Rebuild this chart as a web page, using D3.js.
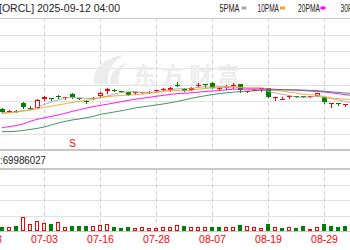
<!DOCTYPE html>
<html><head><meta charset="utf-8">
<script src="https://cdn.jsdelivr.net/npm/d3@7"></script>
<style>html,body{margin:0;padding:0;background:#fff;overflow:hidden}svg{display:block}</style>
</head><body><svg id="c" width="350" height="250"></svg>
<script>
// ---- data ----
const title = "[ORCL] 2025-09-12 04:00";
const volumeText = ":69986027";
const dates = ["06-23","06-24","06-25","06-26","06-27","06-30","07-01","07-02","07-03","07-07","07-08","07-09","07-10","07-11","07-14","07-15","07-16","07-17","07-18","07-21","07-22","07-23","07-24","07-25","07-28","07-29","07-30","07-31","08-01","08-04","08-05","08-06","08-07","08-08","08-11","08-12","08-13","08-14","08-15","08-18","08-19","08-20","08-21","08-22","08-25","08-26","08-27","08-28","08-29","09-02","09-03","09-04","09-05"];
const dataDates = dates.slice(2);
const opens  = [213.5,210.1,210.8,222.9,215.6,214.6,228.5,230,232.3,230.2,236,229.4,225.8,228.8,233,239.8,242.5,239.9,238.6,237.8,238.1,238.6,241.1,243.1,241.3,249.2,243.5,242,248.8,250.7,252.8,244.4,245.8,247.7,250.6,239.2,241.6,243.8,244.6,230,228.2,231.5,232.7,232.4,231.5,233,231.8,221,222.8,219.7,219.5];
const closes = [209,210.8,210.1,216.5,214.6,227,231.9,229.1,231.5,231.1,231.1,228.5,224.8,229.9,238,243.5,241.6,239,234.5,238.6,238.9,239.3,242,243.8,245,248.3,240.5,245.5,249.8,249.8,244.7,245.3,246.8,248.9,242,240,242.3,244.6,231.5,230.9,229.1,232.4,231.8,231.5,232.3,236.8,223.3,221.9,221.9,220.6,222];
const highs  = [215,212.5,211.3,224.5,217.3,227.8,232.5,230.3,234.5,231.5,236.8,229.7,227.3,230.8,238.3,244.3,243.1,240.5,239,238.9,239.3,239.8,242.3,245.6,245.8,254,244.3,245.8,252.5,251,253.3,245.8,249.5,252.5,251.3,240.5,242.8,245,245,231.2,232,234.5,233,232.7,232.6,237.2,232.3,222.2,223.1,220.9,223];
const lows   = [207.5,208.6,209.6,215,212.8,214.3,226.6,226.6,229.6,228.1,230.3,228.2,223.1,228.2,232.6,238,240.8,238.4,233.9,236,237.5,238.1,238.6,241.7,240.8,248,239.8,241.7,246.5,247,244.3,243.8,243.1,245,238.3,238.7,241.3,241,230.8,227,228.1,229.6,230.8,231.2,231.4,232.7,222.5,217,219.5,218,218.5];
const volumes = [9.4,9.4,11.5,29.8,14.6,21.1,16.8,15.9,18.9,9.4,10.2,10.2,10.2,10.2,13.1,15.2,8.1,6.5,9.4,5.9,8.1,5.9,5.9,8.1,8.1,13.1,11.5,8.7,9.4,8.1,9.4,8.7,8.1,8.1,13.7,10.2,9.4,5.9,15.2,9.4,6.5,8.1,6.5,10.2,4.4,8.1,15.9,10.2,8.7,10.2,16.8];
const volumeDir = ["d","u","d","u","u","u","u","d","u","u","d","d","d","u","u","u","d","d","d","u","u","u","u","u","u","u","d","u","u","u","d","d","u","u","d","u","u","u","d","u","d","u","d","d","f","u","d","d","d","d","u"];
const ma5  = [207.5,208.3,209,211.3,212.2,215.8,220,223.9,226.9,230.2,230.9,230.3,229.4,229.1,230.5,232.9,235.6,238.4,239.3,239.5,238.6,238.1,238.7,240.5,241.9,243.7,244,244.6,245.8,246.8,246.1,247,247.3,247.1,245.6,244.6,244,243.5,240.1,237.8,235.7,233.8,231.2,231.2,231.4,233,231.1,229.1,227.2,224.9,222.5];
const ma10 = [206.8,207.8,208.7,210.2,211.6,213.8,215.8,217.7,219.5,221.2,223.4,225.1,226.6,227.9,230.3,232,232.9,233.9,234.2,235,235.7,236.8,238.6,239.9,240.7,241.1,241,241.6,243.2,244.3,244.9,245.5,245.9,246.5,246.2,245.3,245.5,245.5,243.7,241.7,240.2,238.9,237.4,235.6,234.7,234.4,232.4,230.2,229.1,228.2,227];
const ma20 = [185.5,187,188.6,191,194.8,198,200.3,202.3,204.5,207.1,209.8,212.3,214.7,217,218.8,220.6,222.5,224.3,226.3,228.1,229.6,230.9,232.6,233.9,235.4,236.5,236.9,237.8,238.7,239.6,240.4,241.1,242.2,243.2,243.4,243.2,243.2,243.5,243.4,243.1,242.5,242.2,241.7,241.1,240.4,239.8,239,237.8,236.5,235,233.6];
const ma30 = [179.5,179.6,180.1,181.3,182.8,184.3,186.5,189.5,192.5,194.8,197,198.5,200.3,202.3,205.3,207.1,209,210.8,212.8,215,216.5,218,219.5,221,222.8,224.8,227,229.3,231.5,233.3,235.1,236.6,237.8,238.7,239.6,240.2,240.8,241.4,241.9,242.2,242.3,242.3,242.2,241.9,241.4,241,240.2,239.3,238.4,237.5,236.6];
const maNames = ["5PMA","10PMA","20PMA","30PMA"];
const dividendDates = ["07-10"];
const watermark = "东方财富";

// ---- drawing ----
const W = 350, H = 250;
const RED = "#ff0000", GREEN = "#008000";
const maColors = ["#a9a9a9","#f5a623","#ff00ff","#2e8b57"];
const svg = d3.select("#c");
const x = d3.scalePoint().domain(dates).range([-12, 352]);
const cx = i => Math.round(x(dataDates[i]));
const y = d3.scaleLinear().domain([150.5, 350]).range([151, 18]);
const yv = d3.scaleLinear().domain([0, 135]).range([231, 169]);

const grid = svg.append("g").attr("shape-rendering","crispEdges");
const priceGrid = d3.range(1, 9).map(k => 150.5 + k * 199.5 / 8);
grid.selectAll(".pg").data(priceGrid).join("line")
  .attr("x1",0).attr("x2",W)
  .attr("y1",d=>Math.round(y(d))+0.5).attr("y2",d=>Math.round(y(d))+0.5)
  .attr("stroke",(d,i)=> i===priceGrid.length-1 ? "#c8c8c8" : "#e0e0e0");
const volGrid = d3.range(0, 4).map(k => k * 135 / 4);
grid.selectAll(".vg").data(volGrid).join("line")
  .attr("x1",0).attr("x2",W)
  .attr("y1",d=>Math.round(yv(d))+0.5).attr("y2",d=>Math.round(yv(d))+0.5)
  .attr("stroke",(d,i)=> i===0 ? "#c8c8c8" : "#e0e0e0");
// panel borders
grid.append("line").attr("x1",0).attr("x2",W).attr("y1",150).attr("y2",150).attr("stroke","#c8c8c8").attr("stroke-width",2);
grid.append("line").attr("x1",0).attr("x2",W).attr("y1",169).attr("y2",169).attr("stroke","#c8c8c8").attr("stroke-width",2);

const tickDates = dates.filter((d,i)=> i % 8 === 0);
tickDates.forEach(d => {
  const xx = Math.round(x(d)) + 0.5;
  grid.append("line").attr("x1",xx).attr("x2",xx).attr("y1",18).attr("y2",149)
    .attr("stroke","#d0d0d0").attr("stroke-dasharray","4,3");
  grid.append("line").attr("x1",xx).attr("x2",xx).attr("y1",170).attr("y2",231)
    .attr("stroke","#d0d0d0").attr("stroke-dasharray","4,3");
});

// watermark
const wm = svg.append("g").attr("fill","#ececec");
wm.append("path").attr("d","M94,84 C93,68 104,57 124,55 C113,61 107,70 108,84 Z M110,84 C110,73 116,66 127,63 C120,69 118,76 119,84 Z");
wm.append("text").attr("x",133).attr("y",84).text(watermark)
  .style("font-family","'Noto Sans CJK SC'").style("font-weight","700").style("font-size","23px")
  .style("letter-spacing","5px");

// candles
const cg = svg.append("g").attr("shape-rendering","crispEdges");
dataDates.forEach((d,i) => {
  const c = cx(i);
  const up = closes[i] > opens[i];
  const col = up ? RED : GREEN;
  const yh = Math.round(y(highs[i])), yl = Math.round(y(lows[i]));
  cg.append("line").attr("x1",c+0.5).attr("x2",c+0.5).attr("y1",yh).attr("y2",yl+1).attr("stroke",col);
  let top = Math.round(y(Math.max(opens[i],closes[i])));
  let bot = Math.round(y(Math.min(opens[i],closes[i])));
  if (bot - top < 1) bot = top + 1;
  if (up && bot - top >= 3) {
    cg.append("rect").attr("x",c-1.5).attr("y",top+0.5).attr("width",4).attr("height",bot-top-1)
      .attr("fill","#fff").attr("stroke",col);
  } else {
    cg.append("rect").attr("x",c-2).attr("y",top).attr("width",5).attr("height",bot-top).attr("fill",col);
  }
});

// MA lines
const maSeries = [ma5, ma10, ma20, ma30];
const line = d3.line().x((d,i)=>x(dataDates[i])).y(d=>y(d));
maSeries.forEach((s,k) => {
  svg.append("path").attr("d",line(s)).attr("fill","none")
    .attr("stroke",maColors[k]).attr("stroke-width",1).attr("opacity",0.9);
});

// volume bars
const vg = svg.append("g").attr("shape-rendering","crispEdges");
volumes.forEach((v,i) => {
  const c = cx(i);
  const top = Math.round(yv(v));
  const h = 231 - top;
  if (volumeDir[i] === "u") {
    vg.append("rect").attr("x",c-1.5).attr("y",top+0.5).attr("width",3).attr("height",Math.max(0,h-1))
      .attr("fill","#fff").attr("stroke",RED);
  } else {
    vg.append("rect").attr("x",c-2).attr("y",top).attr("width",4).attr("height",h)
      .attr("fill", volumeDir[i]==="d" ? GREEN : RED);
  }
});

// x axis
const axis = d3.axisBottom(x).tickValues(tickDates).tickSize(0).tickPadding(4.5);
const ag = svg.append("g").attr("transform","translate(0,231)").call(axis);
ag.select(".domain").remove();
ag.attr("font-family","'Liberation Sans', Arial, sans-serif").attr("font-size",10.5);
ag.selectAll("text").attr("fill",RED);

// dividend marker
dividendDates.forEach(d => {
  svg.append("text").attr("x",x(d)+0.5).attr("y",147).attr("text-anchor","middle")
    .attr("fill",RED).style("font-family","'Liberation Sans'").style("font-size","10px").text("S");
});

// title
svg.append("text").attr("x",-1).attr("y",12).attr("textLength",121).attr("lengthAdjust","spacingAndGlyphs")
  .attr("fill","#222").style("font-family","'Liberation Sans'").style("font-size","11px").text(title);

// legend
const legX = [219.5, 257.5, 298, 340.5];
const legW = [20, 21.5, 22, 22];
const mkX = [241.5, 280, 320.5, 363];
maNames.forEach((n,k) => {
  svg.append("text").attr("x",legX[k]).attr("y",12).attr("textLength",legW[k]).attr("lengthAdjust","spacingAndGlyphs")
    .attr("fill","#222").style("font-family","'Liberation Sans'").style("font-size","10px").text(n);
  svg.append("rect").attr("x",mkX[k]).attr("y",6.5).attr("width",5).attr("height",3).attr("fill",maColors[k]);
});

// volume text
svg.append("text").attr("x",0).attr("y",164).attr("textLength",46).attr("lengthAdjust","spacingAndGlyphs")
  .attr("fill","#222").style("font-family","'Liberation Sans'").style("font-size","10.5px").text(volumeText);
</script></body></html>
